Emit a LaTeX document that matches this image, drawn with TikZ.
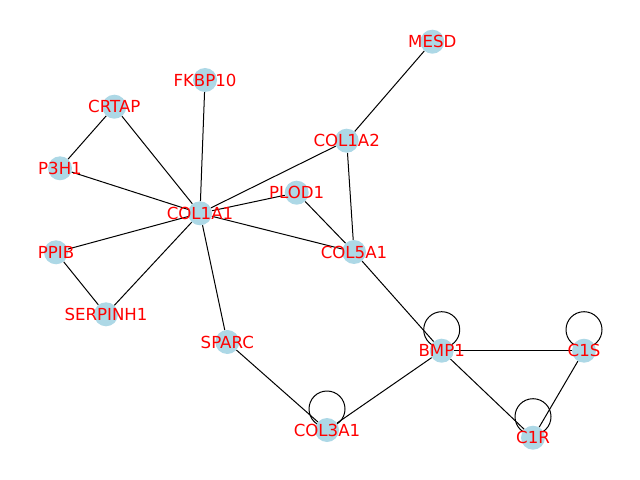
\documentclass[tikz,border=0pt]{standalone}
\usepackage{fontspec}
\setmainfont{DejaVu Sans}
\usepackage{xcolor}
\usetikzlibrary{backgrounds}
\definecolor{nodeColor}{HTML}{ADD8E6}
\definecolor{labelTextColor}{HTML}{FF0000}
\definecolor{linkColor}{HTML}{000000}
\tikzset{
gene/.style={circle, inner sep=0pt, minimum size=24bp, fill=nodeColor,
label={[labelTextColor, inner sep=0pt, font=\fontsize{16.6bp}{20bp}\selectfont]center:#1}},
link/.style={color=linkColor, line width=1bp}
}
\def\loopShift{21}
\def\loopRadius{18}

\begin{document}
\begin{tikzpicture}[x=1bp,y=-1bp]
\useasboundingbox (0, 0) rectangle (640, 480);

% node layer
\begin{scope}
\node[gene=MESD] (MESD) at (432.3, 41.7) {};
\node[gene=FKBP10] (FKBP10) at (205.0, 80.0) {};
\node[gene=CRTAP] (CRTAP) at (114.3, 106.7) {};
\node[gene=COL1A2] (COL1A2) at (346.7, 140.7) {};
\node[gene=P3H1] (P3H1) at (60.0, 168.3) {};
\node[gene=PLOD1] (PLOD1) at (296.7, 192.7) {};
\node[gene=COL1A1] (COL1A1) at (200.0, 213.3) {};
\node[gene=PPIB] (PPIB) at (56.0, 252.3) {};
\node[gene=COL5A1] (COL5A1) at (354.0, 252.0) {};
\node[gene=SERPINH1] (SERPINH1) at (106.0, 314.3) {};
\node[gene=SPARC] (SPARC) at (227.3, 342.0) {};
\node[gene=BMP1] (BMP1) at (441.7, 350.7) {};
\node[gene=C1S] (C1S) at (584.0, 350.7) {};
\node[gene=COL3A1] (COL3A1) at (327.0, 430.0) {};
\node[gene=C1R] (C1R) at (533.0, 437.7) {};
\end{scope}

% link layer
\begin{scope}[on background layer]
\draw[link] (MESD) -- (COL1A2);
\draw[link] (COL1A2) -- (COL1A1);
\draw[link] (COL1A2) -- (COL5A1);
\draw[link] (FKBP10) -- (COL1A1);
\draw[link] (CRTAP) -- (COL1A1);
\draw[link] (CRTAP) -- (P3H1);
\draw[link] (P3H1) -- (COL1A1);
\draw[link] (PLOD1) -- (COL1A1);
\draw[link] (PLOD1) -- (COL5A1);
\draw[link] (COL1A1) -- (COL5A1);
\draw[link] (COL1A1) -- (PPIB);
\draw[link] (COL1A1) -- (SERPINH1);
\draw[link] (PPIB) -- (SERPINH1);
\draw[link] (COL1A1) -- (SPARC);
\draw[link] (SPARC) -- (COL3A1);
\draw[link] (COL3A1) -- (BMP1);
\draw[link] (COL5A1) -- (BMP1);
\draw[link] (BMP1) -- (C1S);
\draw[link] (BMP1) -- (C1R);
\draw[link] (C1S) -- (C1R);
% self loops
\draw[link] (BMP1.center) ++(0, -\loopShift) circle[radius=\loopRadius];
\draw[link] (C1S.center) ++(0, -\loopShift) circle[radius=\loopRadius];
\draw[link] (C1R.center) ++(0, -\loopShift) circle[radius=\loopRadius];
\draw[link] (COL3A1.center) ++(0, -\loopShift) circle[radius=\loopRadius];
\end{scope}

\end{tikzpicture}
\end{document}
